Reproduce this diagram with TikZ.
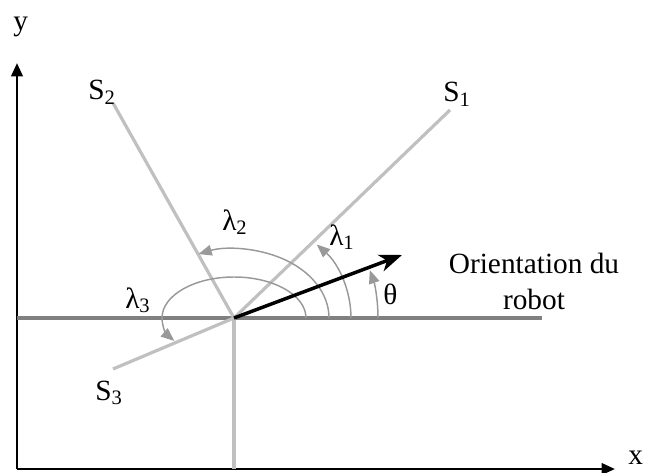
\documentclass[tikz,border=0pt]{standalone}
\usepackage{fontspec}
\setmainfont{Liberation Serif}
\usetikzlibrary{arrows.meta, positioning}
\definecolor{lightgrey}{HTML}{C0C0C0}
\definecolor{midgrey}{HTML}{808080}
\definecolor{arcgrey}{HTML}{999999}

\begin{document}
\begin{tikzpicture}[
    x=0.75pt, y=0.75pt,
    lbl/.style={inner sep=0pt, anchor=base west, font=\fontsize{22}{27}\selectfont},
    axis/.style={line width=2pt, -{Triangle[length=10pt, width=8.5pt]}},
    sensor/.style={draw=lightgrey, line width=2.4pt},
    ref/.style={draw=midgrey, line width=2.4pt},
    angle/.style={draw=arcgrey, line width=1.1pt, -{Triangle[length=10pt, width=8pt]}},
    heading/.style={line width=2.6pt, -{Stealth[length=17pt, width=13pt, inset=5pt]}}
]
\useasboundingbox (0,0) rectangle (646,472);

% axes
\coordinate (o) at (17,3);
\coordinate (xend) at (615,3);
\coordinate (yend) at (17,409);
\draw[axis] (o) -- (xend);
\draw[axis] (o) -- (yend);
\node[lbl] (xlab) at (628,8) {x};
\node[lbl] (ylab) at (13,441) {y};

% robot frame
\coordinate (c) at (234,154);
\coordinate (left) at (17,154);
\coordinate (right) at (542,154);
\coordinate (down) at (234,3);
\draw[ref] (left) -- (right);
\draw[sensor] (c) -- (down);

% sensors
\coordinate (s1) at (450,362);
\coordinate (s2) at (113,369);
\coordinate (s3) at (113,103);
\draw[sensor] (c) -- (s1);
\draw[sensor] (c) -- (s2);
\draw[sensor] (c) -- (s3);
\node[lbl] (s1lab) at (443,370) {S\textsubscript{1}};
\node[lbl] (s2lab) at (88,372) {S\textsubscript{2}};
\node[lbl] (s3lab) at (95,72) {S\textsubscript{3}};

% angles
\draw[angle] (c) ++(0:144) arc[start angle=0, end angle=19.4, radius=144];
\draw[angle] (c) ++(0:117) arc[start angle=0, end angle=45, x radius=117, y radius=104];
\draw[angle] (c) ++(0:95) arc[start angle=0, end angle=112, x radius=95, y radius=69];
\draw[angle] (c) ++(0:72) arc[start angle=0, end angle=214, x radius=72, y radius=41];
\node[lbl] (theta) at (383,168) {θ};
\node[lbl] (lam1) at (329,227) {λ\textsubscript{1}};
\node[lbl] (lam2) at (222,242) {λ\textsubscript{2}};
\node[lbl] (lam3) at (125,164) {λ\textsubscript{3}};

% robot heading
\coordinate (head) at (402,217);
\draw[heading] (c) -- (head);
\node[inner sep=0pt, align=center, font=\fontsize{22}{27}\selectfont] (orient) at (534,191) {Orientation du\\robot};
\end{tikzpicture}
\end{document}
